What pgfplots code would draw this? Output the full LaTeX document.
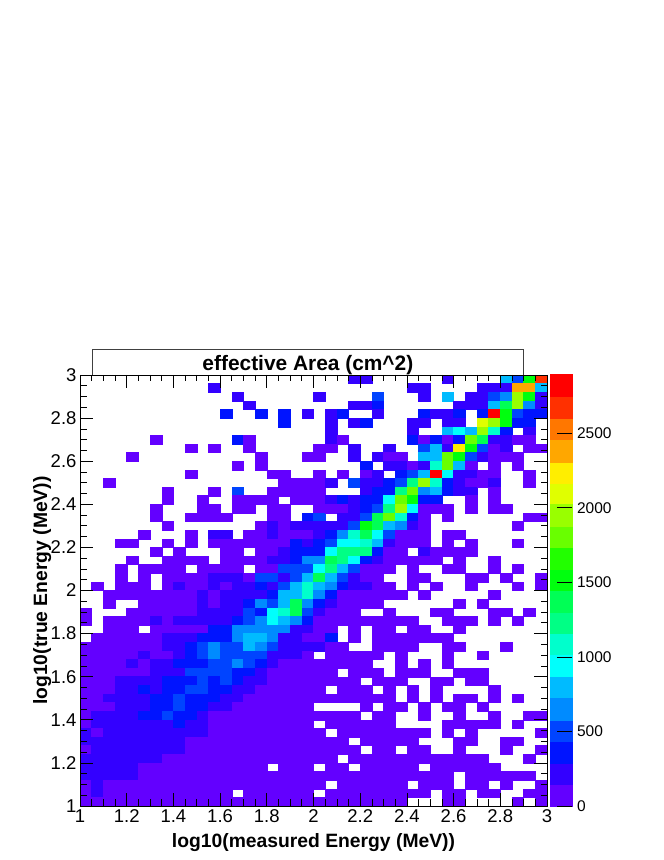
\documentclass[border=0pt]{standalone}
\usepackage{fontspec}
\setmainfont{Liberation Sans}
\usepackage{pgfplots}
\usepackage{pgfplotstable}
\pgfplotsset{compat=1.18}

% one row per log10(true energy) bin, then 40 log10(measured energy) bins, top row first
\pgfplotstableread{
y c0 c1 c2 c3 c4 c5 c6 c7 c8 c9 c10 c11 c12 c13 c14 c15 c16 c17 c18 c19 c20 c21 c22 c23 c24 c25 c26 c27 c28 c29 c30 c31 c32 c33 c34 c35 c36 c37 c38 c39
2.98 nan nan nan nan nan nan nan nan nan nan  nan nan nan nan nan nan nan nan nan nan  nan nan nan 220 220 nan nan nan nan nan  nan 220 nan nan nan nan 800 510 1520 2670
2.94 nan nan nan nan nan nan nan nan nan nan  nan 220 nan nan nan nan nan nan nan nan  nan nan nan nan nan nan nan nan 220 220  nan nan nan nan 220 220 220 2380 2380 800
2.90 nan nan nan nan nan nan nan nan nan nan  nan nan nan 220 nan nan nan nan nan nan  220 nan nan nan nan 510 nan nan nan 220  nan 800 nan 220 220 510 650 1950 1520 220
2.86 nan nan nan nan nan nan nan nan nan nan  nan nan nan nan 220 nan nan nan nan nan  nan nan nan 220 220 360 nan nan nan nan  nan nan 220 220 220 800 1370 1950 650 220
2.82 nan nan nan nan nan nan nan nan nan nan  nan nan 360 nan nan 360 nan 360 nan 220  nan 220 360 nan nan 220 nan nan nan 360  220 220 360 nan 360 2820 1520 510 360 360
2.78 nan nan nan nan nan nan nan nan nan nan  nan nan nan nan nan nan nan 360 nan nan  nan 220 nan 220 360 nan nan nan 220 220  nan 220 220 nan 2100 1950 1520 360 360 nan
2.74 nan nan nan nan nan nan nan nan nan nan  nan nan nan nan nan nan nan nan nan nan  nan 220 nan nan nan nan nan nan 220 nan  nan 800 940 800 1950 1090 360 nan 220 nan
2.70 nan nan nan nan nan nan 70 nan nan nan  nan nan nan 360 70 nan nan nan nan nan  nan 220 70 nan nan nan nan nan 360 70  360 70 360 1810 1370 220 220 70 70 nan
2.66 nan nan nan nan nan nan nan nan nan 70  nan 70 nan nan 70 nan nan nan nan nan  70 70 nan 220 nan nan 220 nan nan 510  800 220 2240 1520 510 70 220 nan 70 70
2.62 nan nan nan nan 70 nan nan nan nan nan  nan nan nan nan nan 70 nan nan nan 70  70 nan nan 220 nan 220 70 70 nan 800  800 1810 1520 510 220 70 70 70 nan nan
2.58 nan nan nan nan nan nan nan nan nan nan  nan nan nan 70 nan 70 nan nan nan nan  nan nan nan nan 360 nan 220 220 70 220  1090 1810 800 70 nan 70 nan 70 nan nan
2.54 nan nan nan nan nan nan nan nan nan 70  nan nan nan nan nan nan 70 70 nan nan  70 nan 70 nan 70 220 nan 360 510 800  2820 940 220 220 70 70 nan nan 70 nan
2.50 nan nan 70 nan nan nan nan nan nan nan  nan nan nan nan nan nan nan 70 70 70  70 220 nan 510 220 220 360 510 1230 1950  1090 360 220 70 70 220 nan nan 70 nan
2.46 nan nan nan nan nan nan nan 70 nan nan  nan 70 nan 510 nan nan 70 70 70 70  70 nan nan nan 220 360 360 1230 1810 650  800 360 220 220 nan 70 nan nan nan nan
2.42 nan nan nan nan nan nan nan 70 nan nan  70 nan nan 70 70 70 70 nan 70 70  70 220 360 220 360 360 940 1810 1520 360  360 nan nan 70 nan 70 nan nan nan nan
2.38 nan nan nan nan nan nan 70 nan nan nan  70 70 nan 70 70 nan 70 70 nan nan  70 70 70 220 360 510 1230 1950 940 70  70 70 nan 70 nan 70 70 nan nan nan
2.34 nan nan nan nan nan nan 70 nan nan 70  70 70 70 nan nan nan 70 70 nan 360  510 nan 220 220 510 1370 1810 1090 360 70  nan 70 nan nan nan nan nan nan 70 70
2.30 nan nan nan nan nan nan nan 70 nan nan  nan nan nan nan nan 70 220 70 220 220  220 220 220 510 1520 1370 800 650 220 70  nan nan nan nan nan nan nan 70 nan nan
2.26 nan nan nan nan nan 70 nan nan nan 70  nan 220 220 nan 70 70 220 70 70 70  220 360 650 1090 1370 940 510 70 70 70  nan 70 70 nan nan nan nan nan nan nan
2.22 nan nan nan 70 70 nan nan 70 nan 70  nan 70 70 70 70 70 70 70 360 220  360 510 940 940 1090 800 220 70 70 70  nan 70 nan 70 nan nan nan 70 nan nan
2.18 nan nan nan nan nan nan 70 nan 70 nan  nan nan 70 70 nan 70 70 220 360 360  360 940 1230 1230 1230 360 70 70 nan 220  70 70 70 70 nan nan nan nan nan nan
2.14 nan nan nan nan 70 nan nan 70 70 70  70 nan 70 70 70 70 220 220 360 650  650 1370 1230 940 360 220 70 70 70 70  70 nan 70 nan nan 70 nan nan nan nan
2.10 nan nan nan 70 nan 70 70 70 70 nan  70 70 70 70 nan 70 70 510 510 510  940 1230 800 510 70 70 70 nan 70 nan  nan 70 70 nan nan 70 nan 70 nan nan
2.06 nan nan nan 70 nan 70 nan 70 70 70  70 220 220 220 70 510 510 220 510 800  1370 800 510 220 70 70 nan nan 70 70  nan nan nan 70 70 nan 70 nan nan 70
2.02 nan 70 nan 70 70 70 nan 70 220 70  70 220 70 220 220 360 220 510 800 1090  800 650 360 220 220 70 70 nan 70 nan  70 nan nan 70 nan nan nan 70 nan 70
1.98 nan nan 70 70 70 70 70 70 70 70  220 70 220 220 220 220 360 800 800 1090  650 360 70 70 70 70 70 70 nan 70  nan nan nan nan nan 70 nan nan nan nan
1.94 nan nan 70 nan nan 70 70 70 70 70  220 70 220 220 360 650 510 800 1370 650  360 220 70 70 70 70 nan nan nan nan  nan nan 70 nan 70 nan nan nan nan nan
1.90 70 nan nan nan 70 70 70 70 70 70  220 220 220 220 510 360 940 1090 1370 510  220 70 70 70 nan nan 70 nan nan nan  70 70 nan nan nan 70 70 nan 70 nan
1.86 70 nan 70 70 70 70 220 70 220 220  220 220 220 360 510 650 940 800 650 360  70 70 70 70 70 70 70 70 70 nan  nan 70 70 70 nan 70 nan 70 nan nan
1.82 nan nan 70 70 70 nan 70 70 70 70  70 360 360 650 650 650 650 650 220 220  70 70 nan 70 nan 70 70 nan 70 70  nan nan 70 nan nan nan nan nan nan nan
1.78 nan 70 70 70 70 70 70 220 220 220  360 360 360 650 800 800 650 220 220 70  70 360 nan 70 nan 70 70 70 70 70  70 70 nan nan nan nan nan nan nan nan
1.74 70 70 70 70 70 70 70 220 220 360  510 650 510 510 800 650 510 220 220 220  220 70 70 nan nan 70 70 70 70 nan  nan 70 70 nan nan nan 70 nan nan nan
1.70 70 70 70 70 70 220 70 70 220 360  510 650 510 510 510 510 220 220 220 70  nan 70 70 70 70 70 nan 70 nan nan  nan 70 nan nan 70 nan nan nan nan nan
1.66 70 70 70 70 220 70 220 220 360 360  360 510 510 650 510 360 220 70 70 70  70 70 70 70 70 nan nan 70 nan 70  nan 70 nan nan nan nan nan nan nan nan
1.62 70 70 70 70 70 70 220 220 220 510  510 510 510 360 360 220 70 70 70 70  70 70 nan 70 70 70 nan 70 70 70  nan nan 70 70 70 nan nan nan nan nan
1.58 70 70 70 220 220 220 220 360 360 360  510 360 510 360 220 220 70 70 70 70  70 70 70 70 nan 70 70 70 nan nan  70 70 nan 70 70 nan nan nan nan nan
1.54 70 70 70 220 220 360 220 360 360 510  510 360 360 220 220 70 70 70 70 70  70 nan 70 70 70 nan 70 nan 70 nan  70 nan nan nan nan 70 nan nan nan nan
1.50 70 70 220 220 220 220 360 360 510 360  360 360 220 220 70 70 70 70 70 70  70 70 70 70 70 70 70 nan 70 nan  70 nan 70 70 nan 70 nan 70 nan nan
1.46 70 70 70 220 220 220 360 360 510 360  360 220 220 70 70 70 70 70 70 70  nan nan nan nan 70 nan 70 70 nan 70  nan 70 70 nan 70 nan nan nan nan nan
1.42 70 220 220 220 220 360 360 510 360 360  220 70 70 70 70 70 70 70 70 70  70 70 70 70 nan 70 70 nan nan 70  nan nan 70 nan nan 70 nan nan 70 70
1.38 70 220 220 220 220 220 220 220 360 220  220 70 70 70 70 70 70 70 70 70  nan 70 70 70 70 70 70 nan nan nan  nan 70 70 70 70 70 nan 70 nan nan
1.34 220 70 220 220 220 220 220 220 220 220  220 70 70 70 70 70 70 70 70 70  70 nan 70 70 70 70 70 70 70 70  nan 70 nan 70 nan nan nan nan nan 70
1.30 220 220 220 220 220 220 220 220 220 70  70 70 70 70 70 70 70 70 70 70  70 70 70 nan 70 70 70 70 70 nan  nan nan 70 70 nan nan 70 70 nan nan
1.26 70 220 220 220 220 220 220 220 220 70  70 70 70 70 70 70 70 70 70 70  70 70 70 70 nan 70 70 nan 70 70  nan nan 70 nan nan nan 70 nan nan 70
1.22 220 220 220 220 220 220 220 70 70 70  70 70 70 70 70 70 70 70 70 70  70 70 nan 70 70 70 70 70 70 70  70 70 70 70 70 nan nan nan 70 nan
1.18 220 220 220 220 220 70 70 70 70 70  70 70 70 70 70 70 nan 70 70 70  nan 70 70 nan 70 70 70 70 70 nan  70 70 70 70 70 70 nan nan nan nan
1.14 220 220 220 220 220 70 70 70 70 70  70 70 70 70 70 70 70 70 70 70  70 70 70 70 70 70 70 70 70 70  70 70 nan 70 70 70 70 70 70 nan
1.10 70 220 70 70 70 70 70 70 70 70  70 70 70 70 70 70 70 70 70 70  70 nan 70 70 70 70 70 70 nan 70  70 70 nan 70 70 nan 70 nan nan 70
1.06 70 220 70 70 70 70 70 70 70 70  70 70 70 nan 70 70 70 70 70 70  nan 70 70 70 70 70 70 70 70 70  nan 70 70 nan 70 70 nan nan 70 70
1.02 70 70 70 70 70 70 70 70 70 70  70 70 70 70 70 70 70 70 70 70  70 70 70 70 70 70 70 70 nan nan  nan 70 70 nan nan nan nan 70 nan 70
}\hist

\pgfplotsset{
  colormap={root}{
    rgb255(70pt)=(99,0,255) rgb255(220pt)=(51,0,255) rgb255(360pt)=(0,20,255) rgb255(510pt)=(0,68,255)
    rgb255(650pt)=(0,139,255) rgb255(800pt)=(0,187,255) rgb255(940pt)=(0,255,252) rgb255(1090pt)=(0,255,204)
    rgb255(1230pt)=(0,255,133) rgb255(1370pt)=(0,255,85) rgb255(1520pt)=(0,255,14) rgb255(1660pt)=(34,255,0)
    rgb255(1810pt)=(105,255,0) rgb255(1950pt)=(153,255,0) rgb255(2100pt)=(224,255,0) rgb255(2240pt)=(255,238,0)
    rgb255(2380pt)=(255,167,0) rgb255(2530pt)=(255,119,0) rgb255(2670pt)=(255,48,0) rgb255(2820pt)=(255,0,0)
  },
  every axis/.append style={
    scale only axis,
    anchor=south west,
    point meta min=70, point meta max=2820,
    tick align=inside,
    tick style={black,line width=0.7pt},
    /pgf/number format/assume math mode=true,
    /pgf/number format/1000 sep={},
  },
  cell/.style={
    scatter, only marks, mark=square*,
    scatter/use mapped color={draw=mapped color,fill=mapped color},
  },
  hist box/.style={
    at={(80pt,54pt)},
    width=467pt, height=431pt,
    xmin=1, xmax=3, ymin=1, ymax=3,
  },
  bar box/.style={
    at={(550pt,54pt)},
    width=22pt, height=431pt,
    xmin=0, xmax=1, ymin=0, ymax=2890,
  },
}

\begin{document}
\begin{tikzpicture}[x=1pt,y=1pt]
\path[use as bounding box] (0,0) rectangle (664,860);
\draw[black!75,line width=0.8pt,fill=white] (92,485) rectangle (523,511);
% cells first, frame and ticks in a second axis on top of them: marks would cover them
\begin{axis}[hist box, hide axis]
\pgfplotsinvokeforeach{1,...,40}{
  % nan in the y expr drops the empty bins
  \addplot[cell, point meta=explicit, mark size=5.84pt, mark options={yscale=0.74}]
    table[x expr={0.975+0.05*#1}, y expr={\thisrowno{0}*\thisrowno{#1}/\thisrowno{#1}}, meta index=#1] {\hist};
}
\end{axis}
\begin{axis}[
    hist box,
    xtick={1,1.2,...,3.01}, ytick={1,1.2,...,3.01},
    minor x tick num=3, minor y tick num=3,
    major tick length=13pt, minor tick length=6.5pt,
    tick label style={font=\fontsize{18.5}{18.5}\selectfont},
    axis line style={black,line width=0.8pt},
    title={\bfseries effective Area (cm\textasciicircum 2)},
    title style={at={(axis description cs:0.488,1)},anchor=base,yshift=-2pt,
      font=\fontsize{20.9}{20.9}\selectfont},
    xlabel={\bfseries log10(measured Energy (MeV))},
    xlabel style={at={(axis description cs:0.5,0)},anchor=base,yshift=-41pt,
      font=\fontsize{19.3}{19.3}\selectfont},
    ylabel={\bfseries log10(true Energy (MeV))},
    ylabel style={at={(axis description cs:0,0.5)},anchor=base,yshift=33pt,
      font=\fontsize{19.3}{19.3}\selectfont},
]
\end{axis}
\begin{axis}[bar box, hide axis]
\addplot[cell, mark size=11pt, mark options={yscale=0.98}, point meta=y] coordinates {
  (0.5,70) (0.5,220) (0.5,360) (0.5,510) (0.5,650) (0.5,800) (0.5,940) (0.5,1090) (0.5,1230) (0.5,1370)
  (0.5,1520) (0.5,1660) (0.5,1810) (0.5,1950) (0.5,2100) (0.5,2240) (0.5,2380) (0.5,2530) (0.5,2670) (0.5,2820)
};
\end{axis}
\begin{axis}[
    bar box,
    xtick=\empty, ytick={0,500,...,2500},
    ytick pos=right, yticklabel pos=right,
    major tick length=15pt,
    tick label style={font=\fontsize{15.5}{15.5}\selectfont},
    yticklabel style={xshift=1.5pt},
    axis line style={draw=none},
]
\end{axis}
\end{tikzpicture}
\end{document}
